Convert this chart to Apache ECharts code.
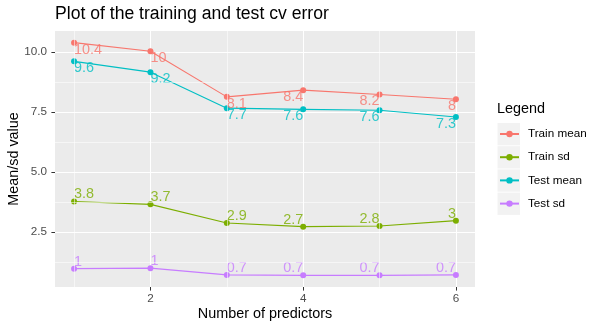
<!DOCTYPE html>
<html>
<head>
<meta charset="utf-8">
<script src="https://cdn.jsdelivr.net/npm/echarts@6/dist/echarts.min.js"></script>
<style>
html,body{margin:0;padding:0;background:#fff;}
#c{width:604px;height:329px;}
</style>
</head>
<body>
<div id="c"></div>
<script>
// ---- data ----
const predictors = [1, 2, 3, 4, 5, 6];
const trainMean = [10.40, 10.04, 8.14, 8.42, 8.24, 8.04];
const trainSd   = [3.78, 3.66, 2.88, 2.73, 2.76, 2.98];
const testMean  = [9.62, 9.17, 7.67, 7.62, 7.58, 7.30];
const testSd    = [0.98, 1.00, 0.72, 0.70, 0.70, 0.72];
const seriesNames = ['Train mean', 'Train sd', 'Test mean', 'Test sd'];
const seriesColors = ['#F8766D', '#7CAE00', '#00BFC4', '#C77CFF'];
const yTicks = [2.5, 5.0, 7.5, 10.0];
const yTickLabels = ['2.5', '5.0', '7.5', '10.0'];
const yMinor = [1.25, 3.75, 6.25, 8.75];
const xTicks = [2, 4, 6];
const xTickLabels = ['2', '4', '6'];
const xMinor = [1, 3, 5];

const allSeries = [trainMean, trainSd, testMean, testSd];
const allVals = allSeries.flat();
const lo = Math.min(...allVals), hi = Math.max(...allVals);
const yMin = lo - 0.05 * (hi - lo), yMax = hi + 0.05 * (hi - lo);
const xLo = Math.min(...predictors), xHi = Math.max(...predictors);
const xMin = xLo - 0.05 * (xHi - xLo), xMax = xHi + 0.05 * (xHi - xLo);
const xMid = (xMin + xMax) / 2, yMid = (yMin + yMax) / 2;

function fmt(v) { return String(Math.round(v * 10) / 10); }

const FONT = 'Liberation Sans, Arial, sans-serif';

// line + point series
const series = allSeries.map((vals, k) => ({
  name: seriesNames[k],
  type: 'line',
  data: predictors.map((x, i) => [x, vals[i]]),
  symbol: 'circle',
  symbolSize: 6,
  showSymbol: true,
  animation: false,
  clip: false,
  z: 3,
  lineStyle: { color: seriesColors[k], width: 1.1 },
  itemStyle: { color: seriesColors[k] },
  label: { show: false },
  emphasis: { disabled: true }
}));

// text labels (geom_text with inward justification)
allSeries.forEach((vals, k) => {
  series.push({
    type: 'scatter',
    silent: true,
    animation: false,
    clip: false,
    z: 4,
    symbol: 'circle',
    symbolSize: 1,
    itemStyle: { color: 'rgba(0,0,0,0)' },
    data: predictors.map((x, i) => {
      const v = vals[i];
      const left = x < xMid;
      const above = v > yMid;
      return {
        value: [x, v],
        label: {
          show: true,
          position: 'inside',
          align: left ? 'left' : 'right',
          verticalAlign: above ? 'top' : 'bottom',
          offset: [0, above ? -0.5 : 3]
        }
      };
    }),
    label: {
      show: true,
      formatter: p => fmt(p.value[1]),
      color: seriesColors[k],
      fontSize: 14.4,
      fontFamily: FONT,
      textBorderWidth: 0
    },
    labelLayout: { hideOverlap: false },
    emphasis: { disabled: true }
  });
});

// minor grid lines (reference lines, not data)
series.push({
  type: 'line',
  data: [],
  silent: true,
  z: 1,
  animation: false,
  markLine: {
    silent: true,
    symbol: 'none',
    animation: false,
    label: { show: false },
    lineStyle: { color: '#ffffff', width: 0.55, type: 'solid' },
    data: yMinor.map(v => ({ yAxis: v })).concat(xMinor.map(v => ({ xAxis: v })))
  }
});

const keyRects = seriesNames.map((n, i) => ({
  type: 'rect',
  shape: { x: 497.5, y: 123 + 23.2 * i, width: 22.5, height: 22.3 },
  style: { fill: '#f2f2f2' },
  z: 0
}));

const chart = echarts.init(document.getElementById('c'), null, { renderer: 'canvas' });
chart.setOption({
  backgroundColor: '#ffffff',
  animation: false,
  title: [
    { text: 'Plot of the training and test cv error', left: 50, top: 0,
      textStyle: { fontSize: 17.6, fontWeight: 'normal', color: '#000', fontFamily: FONT } },
    { text: 'Legend', left: 492, top: 97,
      textStyle: { fontSize: 14.4, fontWeight: 'normal', color: '#000', fontFamily: FONT } }
  ],
  legend: {
    data: seriesNames,
    orient: 'vertical',
    left: 494,
    top: 123,
    itemWidth: 19,
    itemHeight: 8,
    itemGap: 11.2,
    textStyle: { fontSize: 11.7, color: '#000', fontFamily: FONT, lineHeight: 12, padding: [0, 0, 0, 4] },
    selectedMode: false
  },
  graphic: keyRects,
  grid: { left: 55, right: 129, top: 31, bottom: 42, show: true, backgroundColor: '#ebebeb', borderWidth: 0,
          containLabel: false, outerBoundsMode: 'none' },
  xAxis: {
    type: 'value',
    min: xMin, max: xMax,
    name: 'Number of predictors',
    nameLocation: 'middle',
    nameGap: 20,
    nameMoveOverlap: false,
    nameTextStyle: { fontSize: 14.4, color: '#000', fontFamily: FONT, verticalAlign: 'top' },
    axisLine: { show: false },
    axisTick: { show: true, length: 3.6, customValues: xTicks, lineStyle: { color: '#333333', width: 1 } },
    axisLabel: { customValues: xTicks, formatter: v => xTickLabels[xTicks.indexOf(v)] ?? '', fontSize: 11.7, color: '#4d4d4d', margin: 6, fontFamily: FONT },
    splitLine: { show: true, lineStyle: { color: '#ffffff', width: 1.07 } }
  },
  yAxis: {
    type: 'value',
    min: yMin, max: yMax,
    name: 'Mean/sd value',
    nameLocation: 'middle',
    nameGap: 34,
    nameMoveOverlap: false,
    nameTextStyle: { fontSize: 14.4, color: '#000', fontFamily: FONT },
    axisLine: { show: false },
    axisTick: { show: true, length: 3.6, customValues: yTicks, lineStyle: { color: '#333333', width: 1 } },
    axisLabel: { customValues: yTicks, formatter: v => yTickLabels[yTicks.indexOf(v)] ?? '', fontSize: 11.7, color: '#4d4d4d', margin: 8, fontFamily: FONT },
    splitLine: { show: true, lineStyle: { color: '#ffffff', width: 1.07 } }
  },
  series: series
});
</script>
</body>
</html>
